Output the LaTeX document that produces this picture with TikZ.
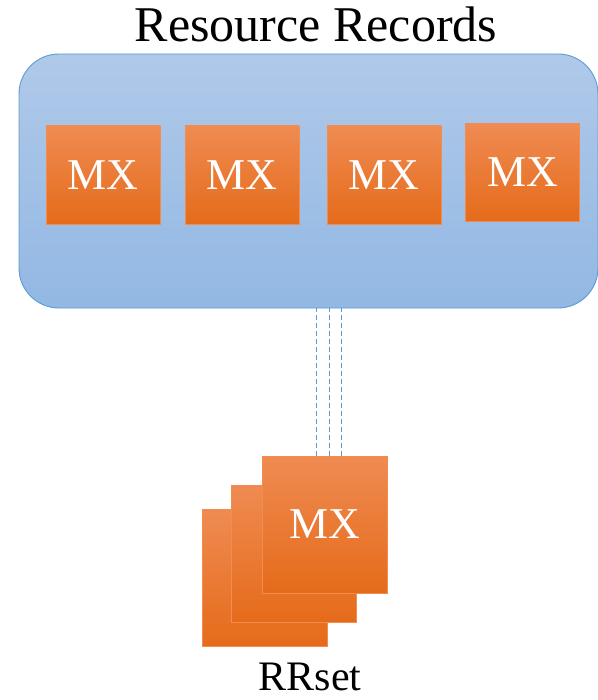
\documentclass[tikz,border=0pt]{standalone}
\usepackage{fontspec}
\setmainfont{Liberation Serif}
\usetikzlibrary{positioning}

\definecolor{rectop}{RGB}{176,201,233}
\definecolor{recbot}{RGB}{146,184,227}
\definecolor{recedge}{RGB}{91,155,213}
\definecolor{mxtop}{RGB}{239,139,82}
\definecolor{mxmid}{RGB}{244,126,44}
\definecolor{mxbot}{RGB}{229,107,26}
\definecolor{mxedge}{RGB}{242,140,80}

\begin{document}
\begin{tikzpicture}[x=1pt,y=-1pt,
  recbox/.style={draw=recedge,line width=0.9pt,rounded corners=40pt,top color=rectop,bottom color=recbot,minimum width=579pt,minimum height=254pt,inner sep=0pt},
  rrbox/.style={draw=mxedge,line width=0.8pt,top color=mxtop,middle color=mxmid,bottom color=mxbot,inner sep=0pt,text=white,font=\fontsize{44}{48}\selectfont},
  mxbox/.style={rrbox,minimum width=114pt,minimum height=98pt},
  cardbox/.style={rrbox,minimum width=125pt,minimum height=137pt},
  link/.style={draw=recedge,line width=0.7pt,dash pattern=on 5pt off 3pt},
  title/.style={font=\fontsize{50}{54}\selectfont,anchor=base}]

\useasboundingbox (0,0) rectangle (597,700);

\node[recbox] (rec) at (308.5,181) {};
\node[title] (rectitle) at (316,42) {Resource Records};

\node[mxbox] (mxA) at (103,175) {MX};
\node[mxbox] (mxB) at (242,175) {MX};
\node[mxbox] (mxC) at (384,175) {MX};
\node[mxbox] (mxD) at (522.5,172.5) {MX};

\node[cardbox] (rrA) at (265,577.5) {};
\node[cardbox] (rrB) at (294,553.5) {};
\node[cardbox] (rrC) at (324.5,524.5) {MX};
\node[title,font=\fontsize{42}{46}\selectfont] (rrtitle) at (310,690) {RRset};

\foreach \dx in {-8.5,4.5,16.5}
  \draw[link] ([xshift=\dx pt]rrC.north) -- ([xshift=\dx pt]rrC.north |- rec.south);

\end{tikzpicture}
\end{document}
